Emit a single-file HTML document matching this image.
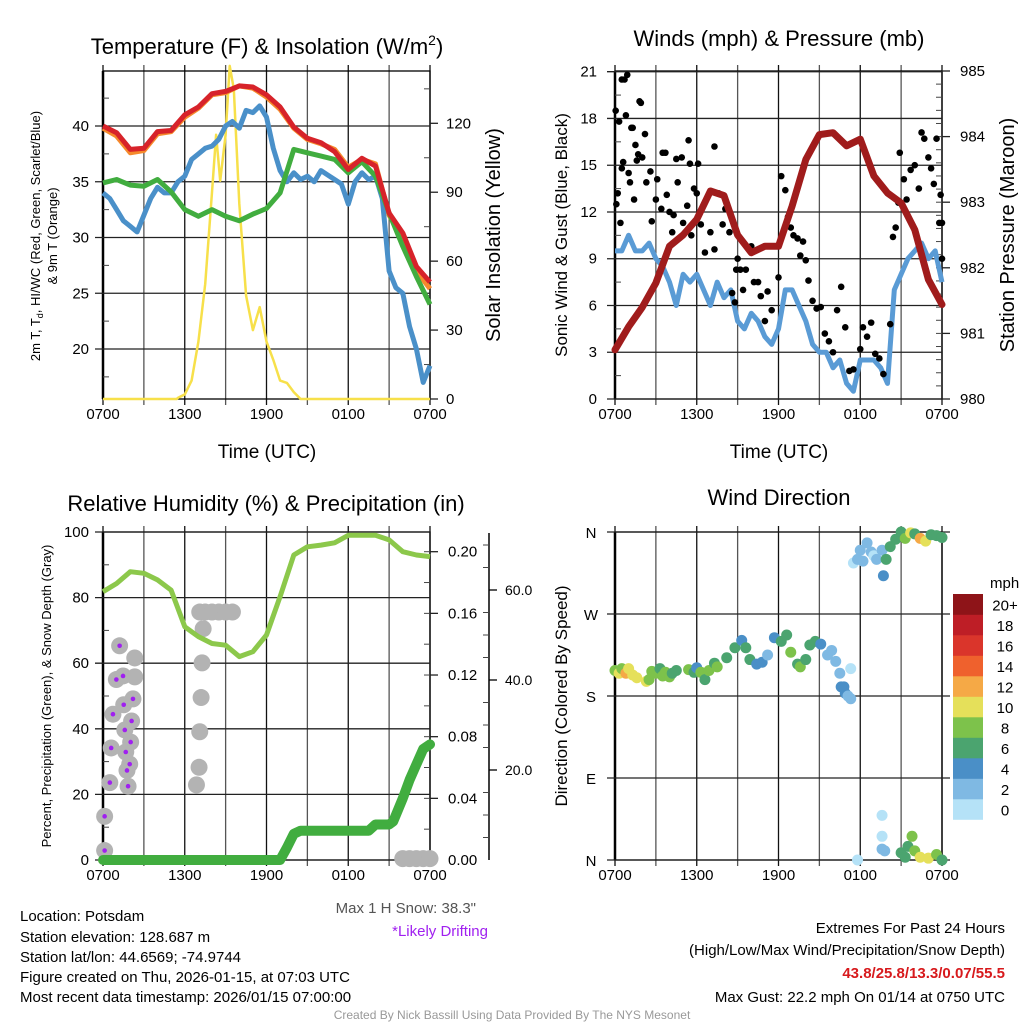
<!DOCTYPE html>
<html><head><meta charset="utf-8"><style>
html,body{margin:0;padding:0;background:#fff;}
svg text{font-family:"Liberation Sans",sans-serif;}
</style></head><body>
<svg id="root" xmlns="http://www.w3.org/2000/svg" width="1024" height="1024" viewBox="0 0 1024 1024">
<rect width="1024" height="1024" fill="#fff"/>
<g id="layer"></g>
<text x="267" y="54" font-size="22" text-anchor="middle">Temperature (F) &amp; Insolation (W/m<tspan font-size="14" dy="-9">2</tspan><tspan dy="9">)</tspan></text>
<text x="779" y="46" font-size="22" text-anchor="middle">Winds (mph) &amp; Pressure (mb)</text>
<text x="266" y="511" font-size="22" text-anchor="middle">Relative Humidity (%) &amp; Precipitation (in)</text>
<text x="779" y="505" font-size="22" text-anchor="middle">Wind Direction</text>
<text x="267" y="458" font-size="19" text-anchor="middle">Time (UTC)</text>
<text x="779" y="458" font-size="19" text-anchor="middle">Time (UTC)</text>
<text transform="translate(40,236) rotate(-90)" font-size="13" text-anchor="middle">2m T, T<tspan font-size="9" dy="3">d</tspan><tspan dy="-3">, HI/WC (Red, Green, Scarlet/Blue)</tspan></text>
<text transform="translate(57,236) rotate(-90)" font-size="13" text-anchor="middle">&amp; 9m T (Orange)</text>
<text transform="translate(500,235) rotate(-90)" font-size="20" text-anchor="middle">Solar Insolation (Yellow)</text>
<text transform="translate(567,235) rotate(-90)" font-size="17" text-anchor="middle">Sonic Wind &amp; Gust (Blue, Black)</text>
<text transform="translate(1014,235) rotate(-90)" font-size="20" text-anchor="middle">Station Pressure (Maroon)</text>
<text transform="translate(51,696) rotate(-90)" font-size="13" text-anchor="middle">Percent, Precipitation (Green), &amp; Snow Depth (Gray)</text>
<text transform="translate(567,696) rotate(-90)" font-size="17" text-anchor="middle">Direction (Colored By Speed)</text>
<text x="476" y="913" font-size="15" fill="#555" text-anchor="end">Max 1 H Snow: 38.3"</text>
<text x="488" y="936" font-size="15" fill="#a020f0" text-anchor="end">*Likely Drifting</text>
<g font-size="15">
<text x="20" y="921">Location: Potsdam</text>
<text x="20" y="942">Station elevation: 128.687 m</text>
<text x="20" y="962">Station lat/lon: 44.6569; -74.9744</text>
<text x="20" y="982">Figure created on Thu, 2026-01-15, at 07:03 UTC</text>
<text x="20" y="1002">Most recent data timestamp: 2026/01/15 07:00:00</text>
</g>
<g font-size="15" text-anchor="end">
<text x="1005" y="933">Extremes For Past 24 Hours</text>
<text x="1005" y="955">(High/Low/Max Wind/Precipitation/Snow Depth)</text>
<text x="1005" y="978" fill="#d7191c" font-weight="bold">43.8/25.8/13.3/0.07/55.5</text>
<text x="1005" y="1002">Max Gust: 22.2 mph On 01/14 at 0750 UTC</text>
</g>
<text x="512" y="1019" font-size="12" fill="#999" text-anchor="middle">Created By Nick Bassill Using Data Provided By The NYS Mesonet</text>
</svg>
<script>
// ---------- data ----------
const hours = [0,1,2,3,4,5,6,7,8,9,10,11,12,13,14,15,16,17,18,19,20,21,22,23,24];
const halfHours = [0,0.5,1,1.5,2,2.5,3,3.5,4,4.5,5,5.5,6,6.5,7,7.5,8,8.5,9,9.5,10,10.5,11,11.5,12,12.5,13,13.5,14,14.5,15,15.5,16,16.5,17,17.5,18,18.5,19,19.5,20,20.5,21,21.5,22,22.5,23,23.5,24];
const xTickLabels = ["0700","1300","1900","0100","0700"];
const tempRed = [40,39.4,37.9,38,39.5,39.6,41,41.7,42.9,43.1,43.6,43.5,42.8,41.7,39.9,38.9,38.5,37.7,36.1,37.1,36.4,32.2,30.4,27.4,26];
const tempOrange = [39.8,39.1,37.6,37.8,39.3,39.5,40.8,41.6,42.8,43.0,43.6,43.4,42.6,41.5,39.8,38.8,38.4,37.9,36.3,37.0,36.6,32.0,30.0,27.0,25.4];
const dewGreen = [34.9,35.2,34.7,34.6,35.2,34.1,32.5,31.9,32.5,31.9,31.5,32.1,32.6,34,37.9,37.6,37.3,37,35.8,36.8,35.5,32.2,29.2,26.5,24];
const windChillBlue = [34,33.5,32.5,31.5,31,30.5,32,33.5,34.5,34,34,35,35.5,37,37.5,38,38.2,38.8,40,40.4,39.8,41.4,41.2,41.8,40.8,38,36,35,35.8,35.2,35.5,35,36,35.6,35.2,34.8,33,35,35.8,35.2,35.5,33.5,27,25.5,25,22,20,17,18.5];
const solarTimes = [0,5.4,5.5,6,6.5,7,7.5,8,8.3,8.6,9,9.3,9.6,10,10.5,11,11.5,12,12.5,13,13.5,14,14.5,24];
const solarValues = [0,0,0.5,2,8,25,50,90,115,95,115,145,135,85,45,30,40,25,17,8,7,3,0,0];
const tempTicks = [20,25,30,35,40];
const solarTicks = [0,30,60,90,120];

const windBlue = [9.5,9.5,10.5,9.5,9.5,10,9,8.5,7.5,6,8,7.5,8,7,6,7.5,6.5,7,5,4.5,5.5,5,4,3.5,4.5,7,7,6,5,3.5,3,3,2,2.5,1,0.5,2.5,2.5,2.5,2,1,7,8,9,9.5,10,9,9.5,7.5];
const pressure = [980.75,981.1,981.4,981.77,982.33,982.5,982.74,983.17,983.1,982.5,982.23,982.33,982.33,982.94,983.65,984.03,984.06,983.86,983.96,983.4,983.14,982.99,982.58,981.82,981.44];
const gustTimes = [0.05,0.1,0.2,0.3,0.4,0.5,0.7,0.8,0.9,0.5,0.6,1.0,1.1,1.2,1.3,1.4,1.5,1.6,1.7,1.8,1.9,2.0,2.2,2.3,2.6,2.7,3.0,3.1,3.4,3.5,3.7,3.8,4.0,4.2,4.3,4.5,4.6,4.9,5.0,5.3,5.4,5.5,5.6,5.8,6.0,6.1,6.3,6.6,7.0,7.3,7.3,7.6,7.9,8.1,8.4,8.6,8.8,8.9,9.0,9.2,9.4,9.6,10.0,10.2,10.5,10.7,11,11.2,11.5,12.0,12.2,12.5,12.7,12.9,13.1,13.4,13.6,13.8,14.0,14.2,14.5,14.8,15.1,15.4,15.7,16.0,16.3,16.6,16.9,17.2,17.5,18,18.2,18.5,18.8,19.1,19.4,19.7,20.2,20.4,20.6,20.8,20.9,21.2,21.4,21.7,22.0,22.3,22.5,22.7,23.0,23.2,23.4,23.6,23.8,24.0,23.9,24];
const gustValues = [18.5,12.5,13.2,17.8,11.3,20.5,20.5,18.2,20.8,14.8,15.2,14.5,13.9,17.4,17.4,12.8,16.3,15.3,15.7,19.1,19.0,15.5,17,13.9,14.6,11.4,12.8,14.1,12.2,15.8,15.8,13.1,12,10.7,11.8,15.4,13.9,15.5,11.3,12.4,16.6,15.1,10.5,13.5,13.2,15.1,11.2,9.4,10.7,16.2,9.6,13.2,11.2,12.2,10.7,6.8,6.2,8.3,9.0,8.3,7,8.3,9.8,7.5,7.5,6.6,5,6.9,5.7,7.8,14.3,13.4,11.7,11,10.5,10.3,9.2,10.1,8.9,7.6,6.3,5.8,5.9,4.2,3.7,3.0,5.7,7.2,4.6,1.8,1.9,3.2,4.6,4,4.9,2.9,2.6,1.6,4.8,10.4,11,12.6,15.8,14.1,12.8,14.7,15,13.5,17.1,16.7,15.5,14.8,13.8,16.7,11.3,11.3,13.1,9];
const windTicks = [0,3,6,9,12,15,18,21];
const pressureTicks = [980,981,982,983,984,985];

const rh = [81.8,84.3,87.9,87.4,85.4,82.3,71.1,68.1,66,65.5,62,63.5,68.6,80.3,93,95.5,96,96.7,99,99,99,97.6,94,93,92.5];
const precipTimes = [0,13,13.5,14,14.5,19.5,20,21,21.3,22,22.5,23,23.5,24];
const precipValues = [0,0,0.008,0.017,0.019,0.019,0.023,0.023,0.025,0.04,0.052,0.062,0.072,0.075];
const snowTimes = [0.12,0.12,0.5,0.6,0.73,0.98,1.22,1.47,1.52,1.6,1.67,1.76,1.84,1.96,2.03,2.1,2.2,2.33,2.33,6.86,7.05,7.1,7.2,7.27,7.35,7.1,7.5,8,8.5,9,9.5,22,22.5,23,23.5,24];
const snowValues = [2.1,9.7,17.2,24.9,32.4,40.1,47.6,40.9,34.5,28.9,24,19.9,16.4,21.3,26.2,30.9,35.8,40.7,44.9,16.7,20.6,28.5,36.1,43.8,51.4,55.1,55.1,55.1,55.1,55.1,55.1,0.3,0.3,0.3,0.3,0.3];
const snowDrifting = [1,1,1,1,1,1,1,1,1,1,1,1,1,1,1,1,1,0,0,0,0,0,0,0,0,0,0,0,0,0,0,0,0,0,0,0];
const rhTicks = [0,20,40,60,80,100];
const precipTicks = [0,0.04,0.08,0.12,0.16,0.20];
const snowTicks = [20,40,60];

const dirTimes = [0,0.3,0.5,0.8,1.0,1.3,1.6,2.3,2.5,2.7,3,3.3,3.5,3.7,4,4.2,4.5,5.4,5.8,6,6.3,6.6,6.9,7.3,7.5,8.2,8.8,9.3,9.6,9.9,10.4,10.8,11.2,11.7,12.2,12.6,12.9,13.4,13.6,14,14.3,14.7,15.1,15.6,15.9,16.2,16.5,16.8,16.9,17.1,17.3,17.3,16.6,17.5,17.8,18.0,18.2,18.5,18.8,19.0,19.2,19.6,19.7,19.9,20.2,20.6,21,21.3,21.7,22,22.4,22.8,23.2,23.6,24,17.8,19.6,19.6,19.6,19.8,21,21.3,21.5,21.8,22,22.4,23,23.6,24];
const dirValues = [208,205,210,205,210,203,200,196,198,207,205,210,202,206,201,205,208,209,206,211,206,198,208,216,212,222,233,241,233,220,215,217,225,244,240,247,228,215,212,220,236,240,237,225,230,218,205,190,183,180,210,177,190,326,330,340,328,348,338,334,330,340,312,330,344,352,360,353,359,358,353,350,357,356,354,0,49,26,12,10,8,3,15,26,10,3,2,6,0];
const dirSpeeds = [8,10,9,12,10,10,10,10,8,8,8,6,8,8,8,6,6,8,6,4,8,6,8,6,8,6,6,4,6,6,4,4,2,4,6,6,8,6,8,6,6,6,4,2,2,2,2,4,4,2,0,2,4,0,2,2,2,2,2,0,2,2,4,6,6,6,6,8,10,6,12,10,6,6,6,0,0,0,2,2,6,6,6,8,8,10,10,8,6];
const dirTicks = ["N","E","S","W","N"];
const speedLabels = ["0","2","4","6","8","10","12","14","16","18","20+"];
const speedColors = ["#b5e2f7","#7fb9e3","#4a8fc7","#4ba46f","#7dc24b","#e5e05a","#f5a946","#ef612d","#da352b","#be1e26","#8e1418"];

// ---------- helpers ----------
const NS = "http://www.w3.org/2000/svg";
const layer = document.getElementById('layer');
function mk(tag, attrs, parent){
  const e = document.createElementNS(NS, tag);
  for (const k in attrs) e.setAttribute(k, attrs[k]);
  (parent||layer).appendChild(e);
  return e;
}
function lin(d0,d1,r0,r1){ return v => r0 + (v-d0)*(r1-r0)/(d1-d0); }
const X0 = 103, X1 = 430, X2 = 615, X3 = 942;
const xL = lin(0,24,X0,X1), xR = lin(0,24,X2,X3);
function pathD(xs, ys, fx, fy){ return xs.map((t,i)=>(i?'L':'M')+fx(t).toFixed(1)+','+fy(ys[i]).toFixed(1)).join(''); }

function frame(x0,x1,y0,y1,fx,name){
  const g = mk('g',{});
  
  
  for (let h=0; h<=24; h+=3){
    const x = fx(h);
    mk('line',{x1:x,x2:x,y1:y0-6,y2:y1+6,stroke:(h%6==0)?'#111':'#555','stroke-width':1.3},g);
  }
  for (let i=0;i<xTickLabels.length;i++){
    const t = mk('text',{x:fx(i*6),y:y1+20,'font-size':15,'text-anchor':'middle'},g);
    t.textContent = xTickLabels[i];
    
    
  }
  mk('rect',{x:x0,y:y0,width:x1-x0,height:y1-y0,fill:'none',stroke:'#000','stroke-width':1.3},g);
  mk('line',{x1:x0,x2:x0,y1:y0,y2:y1,stroke:'#000','stroke-width':2.5},g);
  return g;
}
function hgrid(g,ticks,fy,x0,x1,labels,side,lx){
  ticks.forEach((v,i)=>{
    const y = fy(v);
    if (side==='left'){
      mk('line',{x1:x0-8,x2:x1,y1:y,y2:y,stroke:'#222','stroke-width':1.3},g);
      const t = mk('text',{x:lx,y:y+5,'font-size':15,'text-anchor':'end'},g);
      t.textContent = labels[i];
    } else {
      mk('line',{x1:x1,x2:x1+8,y1:y,y2:y,stroke:'#222','stroke-width':1.3},g);
      const t = mk('text',{x:lx,y:y+5,'font-size':15,'text-anchor':'start'},g);
      t.textContent = labels[i];
    }
  });
}
function minor(g,x,from,to,step,fy,dir){
  for (let v=from; v<=to+1e-9; v+=step){ const y=fy(v); mk('line',{x1:x,x2:x+dir*6,y1:y,y2:y,stroke:'#444','stroke-width':1},g); }
}

// ---------- panel 1: temperature ----------
(function(){
  const yT = lin(20,40,349,126), yS = lin(0,120,399,123.3);
  const g = frame(X0,X1,71,399,xL,'temperature');
  hgrid(g,tempTicks,yT,X0,X1,tempTicks.map(String),'left',89);
  hgrid(g,solarTicks,yS,X0,X1,solarTicks.map(String),'right',446);
  minor(g,X0,17.5,42.5,5,yT,1);
  minor(g,X1,15,135,30,yS,-1);
  const s = mk('path',{d:pathD(solarTimes,solarValues,xL,yS),fill:'none',stroke:'#f7e04a','stroke-width':2.5,'stroke-linejoin':'round'});
   
  const o = mk('path',{d:pathD(hours,tempOrange,xL,yT),fill:'none',stroke:'#f58a2c','stroke-width':5,'stroke-linejoin':'round'});
   
  const b = mk('path',{d:pathD(halfHours,windChillBlue,xL,yT),fill:'none',stroke:'#4a90c9','stroke-width':5,'stroke-linejoin':'round'});
   
  const gr = mk('path',{d:pathD(hours,dewGreen,xL,yT),fill:'none',stroke:'#41ad3f','stroke-width':5,'stroke-linejoin':'round'});
   
  const r = mk('path',{d:pathD(hours,tempRed,xL,yT),fill:'none',stroke:'#d7232a','stroke-width':5,'stroke-linejoin':'round'});
   
})();

// ---------- panel 2: wind & pressure ----------
(function(){
  const yW = lin(0,21,399,71.7), yP = lin(980,985,399,71);
  const g = frame(X2,X3,71,399,xR,'wind');
  hgrid(g,windTicks,yW,X2,X3,windTicks.map(String),'left',597);
  hgrid(g,pressureTicks,yP,X2,X3,pressureTicks.map(String),'right',960);
  minor(g,X2,1.5,19.5,3,yW,1);
  minor(g,X3,980.2,984.8,0.2,yP,-1);
  const b = mk('path',{d:pathD(halfHours,windBlue,xR,yW),fill:'none',stroke:'#5a9bd5','stroke-width':5,'stroke-linejoin':'round'});
   
  gustTimes.forEach((t,i)=>{
    const c = mk('circle',{cx:xR(t),cy:yW(gustValues[i]),r:3.3,fill:'#000'});
     
  });
  const p = mk('path',{d:pathD(hours,pressure,xR,yP),fill:'none',stroke:'#a01c1c','stroke-width':7,'stroke-linejoin':'round','stroke-linecap':'round'});
   
})();

// ---------- panel 3: humidity ----------
(function(){
  const yH = lin(0,100,860,532), yPr = lin(0,0.2,860,551.7), ySn = lin(0,20,860,770);
  const g = frame(X0,X1,532,860,xL,'humidity');
  hgrid(g,rhTicks,yH,X0,X1,rhTicks.map(String),'left',89);
  hgrid(g,precipTicks,yPr,X0,X1,precipTicks.map(v=>v.toFixed(2)),'right',448);
  minor(g,X0,10,90,20,yH,1);
  minor(g,X1,0.02,0.2,0.02,yPr,-1);
  const ax = mk('g',{});
   
  mk('line',{x1:489,x2:489,y1:533,y2:860,stroke:'#000','stroke-width':1.5},ax);
  snowTicks.forEach(v=>{ const y=ySn(v); mk('line',{x1:489,x2:497,y1:y,y2:y,stroke:'#000','stroke-width':1.3},ax);
    const t=mk('text',{x:505,y:y+5,'font-size':14},ax); t.textContent=v.toFixed(1); });
  for (let v=5; v<=70; v+=5){ if(v%20){ const y=ySn(v); if(y>533) mk('line',{x1:489,x2:483,y1:y,y2:y,stroke:'#444'},ax);} }
  snowTimes.forEach((t,i)=>{
    const c = mk('circle',{cx:xL(t),cy:ySn(snowValues[i]),r:8.5,fill:'#b3b3b3'});
     
  });
  snowTimes.forEach((t,i)=>{ if(snowDrifting[i]){
    const c = mk('circle',{cx:xL(t),cy:ySn(snowValues[i]),r:2.3,fill:'#a020f0'});
      }});
  const r = mk('path',{d:pathD(hours,rh,xL,yH),fill:'none',stroke:'#8cc84b','stroke-width':5,'stroke-linejoin':'round'});
   
  const pr = mk('path',{d:pathD(precipTimes,precipValues,xL,yPr),fill:'none',stroke:'#41ad3f','stroke-width':10,'stroke-linejoin':'round','stroke-linecap':'round'});
   
})();

// ---------- panel 4: wind direction ----------
(function(){
  const yD = lin(0,360,860,532);
  const g = frame(X2,X3,532,860,xR,'direction');
  dirTicks.forEach((lab,i)=>{
    const y = yD(i*90);
    mk('line',{x1:X2-8,x2:X3+8,y1:y,y2:y,stroke:'#222','stroke-width':1.3},g);
    const t = mk('text',{x:591,y:y+6,'font-size':15,'text-anchor':'middle'},g); t.textContent = lab;
  });
  dirTimes.forEach((t,i)=>{
    const idx = Math.min(10, Math.floor(dirSpeeds[i]/2));
    const c = mk('circle',{cx:xR(t),cy:yD(dirValues[i]),r:5.5,fill:speedColors[idx]});
     
  });
  const lg = mk('g',{});
   
  const tt = mk('text',{x:990,y:588,'font-size':15},lg); tt.textContent='mph';
  const top = 594, h = 20.5;
  for (let i=0;i<11;i++){
    const y = top + (10-i)*h;
    mk('rect',{x:953,y:y,width:30,height:h+0.3,fill:speedColors[i]},lg);
    const t = mk('text',{x:1005,y:y+h/2+6,'font-size':15,'text-anchor':'middle'},lg); t.textContent = speedLabels[i];
  }
})();
</script>
</body></html>
